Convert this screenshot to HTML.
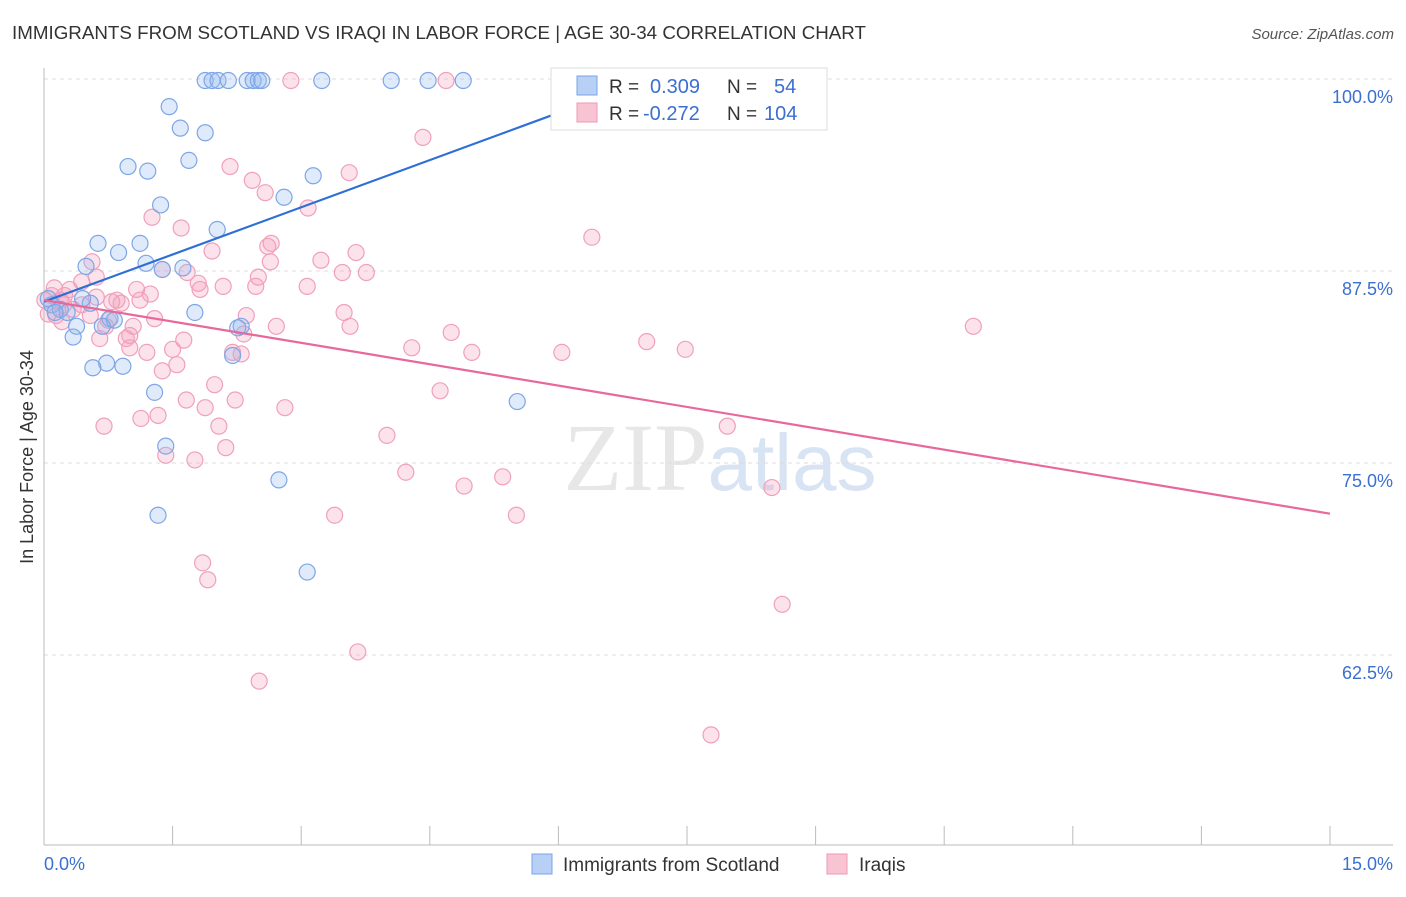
<!DOCTYPE html>
<html><head><meta charset="utf-8"><style>
body{margin:0;background:#fff;font-family:"Liberation Sans",sans-serif;}
svg text{font-family:"Liberation Sans",sans-serif;}
</style></head><body>
<svg id="chart" width="1406" height="892" xmlns="http://www.w3.org/2000/svg">
<text x="12" y="39" font-size="18.5" fill="#333" textLength="854" lengthAdjust="spacingAndGlyphs">IMMIGRANTS FROM SCOTLAND VS IRAQI IN LABOR FORCE | AGE 30-34 CORRELATION CHART</text>
<text x="1394" y="39" font-size="15" fill="#555" text-anchor="end" font-style="italic">Source: ZipAtlas.com</text>
<text transform="translate(33,457) rotate(-90)" font-size="18" fill="#333" text-anchor="middle">In Labor Force | Age 30-34</text>
<text x="720" y="490" font-size="96" text-anchor="middle" fill="#ddd" opacity="0.7"><tspan font-family="Liberation Serif">ZIP</tspan><tspan fill="#c8d8ee" font-size="80">atlas</tspan></text>
<g id="grid"></g><g id="axes"></g><g id="pts"></g><g id="lines"></g>
<g>
<rect x="551" y="68" width="276" height="62" fill="#fff" stroke="#ddd"/>
<rect x="577" y="76" width="20" height="19" fill="#b8d0f5" stroke="#7aa4e6"/>
<rect x="577" y="103" width="20" height="19" fill="#f8c4d4" stroke="#ee9ab4"/>
<text x="609" y="93" font-size="19" fill="#333">R = </text><text x="650" y="93" font-size="20" fill="#3b6fd0">0.309</text>
<text x="727" y="93" font-size="19" fill="#333">N = </text><text x="774" y="93" font-size="20" fill="#3b6fd0">54</text>
<text x="609" y="120" font-size="19" fill="#333">R = </text><text x="643" y="120" font-size="20" fill="#3b6fd0">-0.272</text>
<text x="727" y="120" font-size="19" fill="#333">N = </text><text x="764" y="120" font-size="20" fill="#3b6fd0">104</text>
</g>
<g>
<rect x="532" y="854" width="20" height="20" fill="#b8d0f5" stroke="#7aa4e6"/>
<text x="563" y="871" font-size="19" fill="#333">Immigrants from Scotland</text>
<rect x="827" y="854" width="20" height="20" fill="#f8c4d4" stroke="#ee9ab4"/>
<text x="859" y="871" font-size="19" fill="#333">Iraqis</text>
</g>
</svg>
<script>
const yTicks=[100,87.5,75,62.5];
const yTickLabels=["100.0%","87.5%","75.0%","62.5%"];
const xTicks=[0,1.5,3,4.5,6,7.5,9,10.5,12,13.5,15];
const blueX=[1.88,1.96,2.03,2.15,2.37,2.44,2.50,2.54,3.24,4.05,4.48,4.89,1.46,1.59,1.88,1.69,0.98,1.21,3.14,2.80,1.36,2.02,0.63,1.12,0.87,1.19,0.49,1.62,1.38,0.05,0.09,0.19,0.27,0.54,0.45,0.77,0.82,0.68,0.38,0.34,1.76,2.30,2.26,2.20,0.73,0.92,0.57,1.29,5.52,1.42,2.74,1.33,3.07,0.13];
const blueY=[99.9,99.9,99.9,99.9,99.9,99.9,99.9,99.9,99.9,99.9,99.9,99.9,98.2,96.8,96.5,94.7,94.3,94.0,93.7,92.3,91.8,90.2,89.3,89.3,88.7,88.0,87.8,87.7,87.6,85.7,85.3,85.0,84.8,85.4,85.7,84.4,84.3,83.9,83.9,83.2,84.8,83.9,83.8,82.0,81.5,81.3,81.2,79.6,79.0,76.1,73.9,71.6,67.9,84.8];
const pinkX=[2.88,4.69,4.42,2.17,3.56,2.43,2.58,3.08,1.26,1.60,6.39,2.65,2.61,1.96,3.64,3.23,0.56,3.48,3.76,2.50,0.61,1.38,1.67,0.12,0.30,0.44,1.80,2.09,2.47,3.07,0.61,1.24,1.08,0.85,0.90,0.19,0.23,0.79,0.44,0.34,0.05,0.14,0.21,3.50,2.36,1.04,0.72,2.71,3.57,10.84,4.75,2.33,1.00,0.96,0.65,7.03,1.63,4.29,7.48,4.99,6.04,1.00,1.50,2.30,1.20,1.55,1.38,1.99,4.62,1.66,2.23,2.81,1.88,1.13,1.33,0.70,2.04,7.97,4.00,2.12,1.42,1.76,4.22,5.35,4.90,8.49,3.39,5.51,1.85,1.91,8.61,3.66,2.51,7.78,0.24,0.54,1.12,0.01,0.75,1.82,2.20,2.64,1.29,0.09];
const pinkY=[99.9,99.9,96.2,94.3,93.9,93.4,92.6,91.6,91.0,90.3,89.7,89.3,89.1,88.8,88.7,88.2,88.1,87.4,87.4,87.1,87.1,87.6,87.4,86.4,86.3,86.8,86.7,86.5,86.5,86.5,85.8,86.0,86.3,85.6,85.4,85.6,85.3,85.5,85.3,85.0,84.7,84.6,84.2,84.8,84.6,83.9,83.9,83.9,83.9,83.9,83.5,83.4,83.3,83.1,83.1,82.9,83.0,82.5,82.4,82.2,82.2,82.5,82.4,82.1,82.2,81.4,81.0,80.1,79.7,79.1,79.1,78.6,78.6,77.9,78.1,77.4,77.4,77.4,76.8,76.0,75.5,75.2,74.4,74.1,73.5,73.4,71.6,71.6,68.5,67.4,65.8,62.7,60.8,57.3,85.9,84.6,85.6,85.6,84.3,86.3,82.2,88.1,84.4,85.9];
const blueLine=[[0,85.5],[6.49,98.8]];
const pinkLine=[[0,85.6],[15,71.7]];
const NS="http://www.w3.org/2000/svg";
const sx=v=>44+v/15*1286;
const sy=v=>79+(100-v)/12.5*192;
function mk(t,a,p){const e=document.createElementNS(NS,t);for(const k in a)e.setAttribute(k,a[k]);p.appendChild(e);return e;}
const grid=document.getElementById('grid'),axes=document.getElementById('axes'),pts=document.getElementById('pts'),lines=document.getElementById('lines');
yTicks.forEach((t,i)=>{
 const g=mk('line',{x1:44,x2:1393,y1:sy(t),y2:sy(t),stroke:'#ddd','stroke-dasharray':'4,4'},grid);
 
 
 const tx=mk('text',{x:1393,y:sy(t)+24,'font-size':18,fill:'#3b6fd0','text-anchor':'end'},axes);
 tx.textContent=yTickLabels[i];
 
 
});
const ax=mk('line',{x1:44,x2:1393,y1:845,y2:845,stroke:'#bbb'},axes);


const ay=mk('line',{x1:44,x2:44,y1:68,y2:845,stroke:'#bbb'},axes);


xTicks.forEach(t=>{
 const l=mk('line',{x1:sx(t),x2:sx(t),y1:826,y2:845,stroke:'#bbb'},axes);
 
 
});
[[0,'0.0%','start',44],[15,'15.0%','end',1393]].forEach(d=>{
 const t=mk('text',{x:d[3],y:870,'font-size':18,fill:'#3b6fd0','text-anchor':d[2]},axes);
 t.textContent=d[1];
 
 
});
pinkX.forEach((x,i)=>{
 const c=mk('circle',{cx:sx(x),cy:sy(pinkY[i]),r:8,fill:'rgba(244,160,188,0.3)',stroke:'#f0a0ba','stroke-width':1.2},pts);
 
 
});
blueX.forEach((x,i)=>{
 const c=mk('circle',{cx:sx(x),cy:sy(blueY[i]),r:8,fill:'rgba(150,185,240,0.3)',stroke:'#7ea6e6','stroke-width':1.2},pts);
 
 
});
const bl=mk('line',{x1:sx(blueLine[0][0]),y1:sy(blueLine[0][1]),x2:sx(blueLine[1][0]),y2:sy(blueLine[1][1]),stroke:'#2e6fd6','stroke-width':2.2},lines);


const pl=mk('line',{x1:sx(pinkLine[0][0]),y1:sy(pinkLine[0][1]),x2:sx(pinkLine[1][0]),y2:sy(pinkLine[1][1]),stroke:'#e8689a','stroke-width':2.2},lines);


</script>
</body></html>
